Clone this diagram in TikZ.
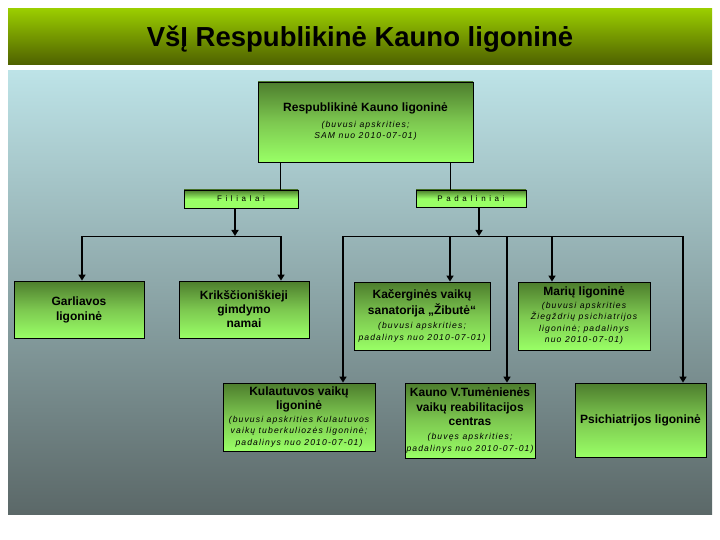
\documentclass[tikz,border=0pt]{standalone}
\usepackage{fontspec}
\setmainfont{Liberation Sans}
\newfontfamily\spacedfont[LetterSpace=45]{Liberation Sans}
\newfontfamily\smallfont[LetterSpace=13]{Liberation Sans}
\usetikzlibrary{arrows.meta}
\definecolor{titletop}{RGB}{154,205,0}
\definecolor{titlebot}{RGB}{78,96,0}
\definecolor{paneltop}{RGB}{189,227,231}
\definecolor{panelbot}{RGB}{91,104,104}
\definecolor{boxtop}{RGB}{77,125,45}
\definecolor{boxmid}{RGB}{125,200,80}
\definecolor{boxbot}{RGB}{153,255,102}
\newcommand\smit[1]{{\smallfont\itshape\fontsize{8.6}{11.5}\selectfont #1}}
\newcommand\bft[1]{\textbf{#1}}
\begin{document}
\begin{tikzpicture}[x=1pt,y=-1pt,
  box/.style={draw=black, line width=0.8pt, top color=boxtop, bottom color=boxbot, middle color=boxmid,
    inner sep=1pt, align=center, text=black, font=\fontsize{12}{11.5}\selectfont},
  tab/.style={draw=black, line width=0.8pt, top color=boxtop, bottom color=boxbot, middle color=boxbot,
    inner sep=0pt, font=\spacedfont\fontsize{8}{10}\selectfont},
  thinline/.style={line width=1pt},
  arr/.style={line width=2pt, -{Triangle[width=7pt,length=6pt]}}]
\useasboundingbox (0,0) rectangle (720,540);
\fill[white] (0,0) rectangle (720,540);
\shade[top color=titletop,bottom color=titlebot] (8,9) rectangle (712,65);
\node[font=\bfseries\fontsize{27.5}{30}\selectfont] (title) at (360,39) {VšĮ Respublikinė Kauno ligoninė};
\shade[top color=paneltop,bottom color=panelbot] (8,71) rectangle (712,514);

% nodes
\node[box, minimum width=215pt, minimum height=80pt] (top) at (365.5,122)
  {\bft{Respublikinė Kauno ligoninė}\\[4pt]\smit{(buvusi apskrities;}\\\smit{SAM nuo 2010-07-01)}};
\node[tab, minimum width=114pt, minimum height=18pt] (fil) at (241,199) {Filialai};
\node[tab, minimum width=110pt, minimum height=17pt] (pad) at (471,198.5) {Padaliniai};

\node[box, minimum width=130pt, minimum height=57pt] (garl) at (79,309.5)
  {\bft{Garliavos}\\[3.5pt]\bft{ligoninė}};
\node[box, minimum width=130pt, minimum height=57pt] (krik) at (244,309.5)
  {\bft{Krikščioniškieji}\\[2.5pt]\bft{gimdymo}\\[2.5pt]\bft{namai}};
\node[box, minimum width=136pt, minimum height=68pt] (kac) at (422,316)
  {\bft{Kačerginės vaikų}\\[1.5pt]\bft{sanatorija „Žibutė“}\\[2.5pt]\smit{(buvusi apskrities;}\\\smit{padalinys nuo 2010-07-01)}};
\node[box, minimum width=132pt, minimum height=68pt] (mar) at (584,316)
  {\bft{Marių ligoninė}\\[1pt]\smit{(buvusi apskrities}\\\smit{Žiegždrių psichiatrijos}\\\smit{ligoninė; padalinys}\\\smit{nuo 2010-07-01)}};
\node[box, minimum width=152pt, minimum height=68pt] (kul) at (299,417)
  {\bft{Kulautuvos vaikų}\\[2.5pt]\bft{ligoninė}\\[1.5pt]\smit{(buvusi apskrities Kulautuvos}\\\smit{vaikų tuberkuliozės ligoninė;}\\\smit{padalinys nuo 2010-07-01)}};
\node[box, minimum width=130pt, minimum height=75pt] (kau) at (470,420.5)
  {\bft{Kauno V.Tumėnienės}\\[3pt]\bft{vaikų reabilitacijos}\\[3pt]\bft{centras}\\[2.5pt]\smit{(buvęs apskrities;}\\\smit{padalinys nuo 2010-07-01)}};
\node[box, minimum width=131pt, minimum height=74pt] (psi) at (640.5,420)
  {\bft{Psichiatrijos ligoninė}};

% junctions
\coordinate (filbar) at (235,236);
\coordinate (fl) at (82,236);
\coordinate (fr) at (281,236);
\coordinate (padbar) at (479,236);
\coordinate (p1) at (343,236);
\coordinate (p2) at (450,236);
\coordinate (p3) at (507,236);
\coordinate (p4) at (552,236);
\coordinate (p5) at (683,236);

% connectors
\draw[thinline] (top.south -| 280,0) -- (fil.north -| 280,0);
\draw[thinline] (top.south -| 450,0) -- (pad.north -| 450,0);
\draw[thinline] (fl) -- (fr);
\draw[thinline] (p1) -- (p5);
\draw[arr] (fil.south -| filbar) -- (filbar);
\draw[arr] (pad.south -| padbar) -- (padbar);
\draw[arr] (fl) -- (garl.north -| fl);
\draw[arr] (fr) -- (krik.north -| fr);
\draw[arr] (p1) -- (kul.north -| p1);
\draw[arr] (p2) -- (kac.north -| p2);
\draw[arr] (p3) -- (kau.north -| p3);
\draw[arr] (p4) -- (mar.north -| p4);
\draw[arr] (p5) -- (psi.north -| p5);
\end{tikzpicture}
\end{document}
